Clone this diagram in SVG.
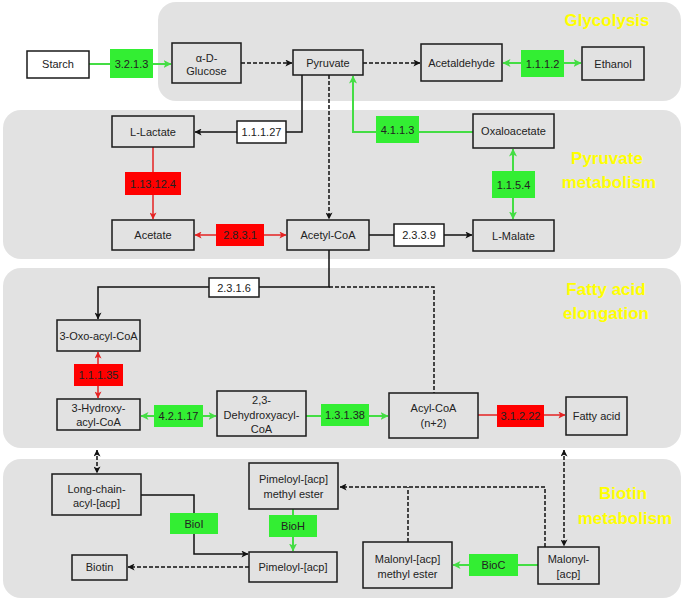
<svg xmlns="http://www.w3.org/2000/svg" width="685" height="602" viewBox="0 0 685 602">
<defs>
<style>
.panel{fill:#e2e2e2;stroke:none}
.node{fill:#e2e2e2;stroke:#1a1a1a;stroke-width:1.5}
.wnode{fill:#ffffff;stroke:#1a1a1a;stroke-width:1.5}
.green{fill:#33ee33;stroke:none}
.red{fill:#ff0000;stroke:none}
text{font-family:"Liberation Sans",Arial,sans-serif;font-size:11px;fill:#222;text-anchor:middle}
.title{font-weight:bold;font-size:17px;fill:#ffff00}
.bl{fill:none;stroke:#111;stroke-width:1.5}
.bd{fill:none;stroke:#111;stroke-width:1.5;stroke-dasharray:4 2}
.gl{fill:none;stroke:#44dd44;stroke-width:2}
.rl{fill:none;stroke:#e52222;stroke-width:1.5}
</style>
<marker id="ab" viewBox="0 0 8 8" markerWidth="7" markerHeight="7" refX="7.5" refY="4" orient="auto-start-reverse" markerUnits="userSpaceOnUse"><path d="M0,0 L8,4 L0,8 L2,4 z" fill="#111"/></marker>
<marker id="ag" viewBox="0 0 8 8" markerWidth="8" markerHeight="8" refX="7.5" refY="4" orient="auto-start-reverse" markerUnits="userSpaceOnUse"><path d="M0,0 L8,4 L0,8 L2,4 z" fill="#44dd44"/></marker>
<marker id="ar" viewBox="0 0 8 8" markerWidth="7" markerHeight="7" refX="7.5" refY="4" orient="auto-start-reverse" markerUnits="userSpaceOnUse"><path d="M0,0 L8,4 L0,8 L2,4 z" fill="#e52222"/></marker>
</defs>
<rect width="685" height="602" fill="#ffffff"/>
<g id="panels">
<rect class="panel" x="158" y="2" width="523" height="99" rx="18"/>
<rect class="panel" x="3" y="110" width="678" height="149" rx="18"/>
<rect class="panel" x="3" y="268" width="678" height="180" rx="18"/>
<rect class="panel" x="3" y="459" width="678" height="139" rx="18"/>
<text class="title" x="607" y="26">Glycolysis</text>
<text class="title" x="607" y="164">Pyruvate</text>
<text class="title" x="609" y="188">metabolism</text>
<text class="title" x="606" y="295">Fatty acid</text>
<text class="title" x="606" y="319">elongation</text>
<text class="title" x="623" y="499">Biotin</text>
<text class="title" x="625" y="524">metabolism</text>
</g>
<g id="connectors">
<path class="gl" d="M89,64 H171" marker-end="url(#ag)"/>
<path class="bd" d="M241,63 H292" marker-end="url(#ab)"/>
<path class="bd" d="M363,63 H420" marker-end="url(#ab)"/>
<path class="gl" d="M503,63 H581" marker-start="url(#ag)" marker-end="url(#ag)"/>
<path class="bl" d="M302,75 V132 H195" marker-end="url(#ab)"/>
<path class="bd" d="M329,75 V219" marker-end="url(#ab)"/>
<path class="gl" d="M473,132 H353 V76" marker-end="url(#ag)"/>
<path class="rl" d="M153,147 V219" marker-end="url(#ar)"/>
<path class="rl" d="M195,235 H286" marker-start="url(#ar)" marker-end="url(#ar)"/>
<path class="bl" d="M369,235 H472" marker-end="url(#ab)"/>
<path class="gl" d="M513,149 V219" marker-start="url(#ag)" marker-end="url(#ag)"/>
<path class="bl" d="M329,250 V287 H98 V319" marker-end="url(#ab)"/>
<path class="bd" d="M329,287 H434 V393"/>
<path class="rl" d="M98,352 V398" marker-start="url(#ar)" marker-end="url(#ar)"/>
<path class="gl" d="M141,416 H216" marker-start="url(#ag)" marker-end="url(#ag)"/>
<path class="gl" d="M306,416 H388" marker-end="url(#ag)"/>
<path class="rl" d="M478,415 H565" marker-end="url(#ar)"/>
<path class="bd" d="M97,450 V473" marker-start="url(#ab)" marker-end="url(#ab)"/>
<path class="bd" d="M564,450 V546" marker-start="url(#ab)" marker-end="url(#ab)"/>
<path class="bl" d="M141,495 H194 V554 H248" marker-end="url(#ab)"/>
<path class="gl" d="M293,509 V551" marker-end="url(#ag)"/>
<path class="bd" d="M249,567 H128" marker-end="url(#ab)"/>
<path class="gl" d="M538,565 H453" marker-end="url(#ag)"/>
<path class="bd" d="M545,547 V487 H340" marker-end="url(#ab)"/>
<path class="bd" d="M408,542 V487"/>
</g>
<g id="starch"><rect class="wnode" x="27" y="51" width="62" height="27"/><text x="58" y="68">Starch</text></g>
<g id="ec3213"><rect class="green" x="110" y="49" width="43" height="29"/><text x="131.5" y="68">3.2.1.3</text></g>
<g id="glucose"><rect class="node" x="172" y="43" width="69" height="40"/><text x="206.5" y="62">α-D-</text><text x="206.5" y="75">Glucose</text></g>
<g id="pyruvate"><rect class="node" x="293" y="50" width="70" height="25"/><text x="328" y="66.5">Pyruvate</text></g>
<g id="acetaldehyde"><rect class="node" x="421" y="44" width="81" height="37"/><text x="461.5" y="66.5">Acetaldehyde</text></g>
<g id="ec1112"><rect class="green" x="521" y="50" width="43" height="27"/><text x="542.5" y="67.5">1.1.1.2</text></g>
<g id="ethanol"><rect class="node" x="582" y="47" width="62" height="33"/><text x="613" y="67.5">Ethanol</text></g>
<g id="llactate"><rect class="node" x="112" y="116" width="82" height="31"/><text x="153" y="135.5">L-Lactate</text></g>
<g id="ec11127"><rect class="wnode" x="237" y="121" width="49" height="22"/><text x="261.5" y="136">1.1.1.27</text></g>
<g id="ec4113"><rect class="green" x="376" y="116" width="43" height="27"/><text x="397.5" y="133.5">4.1.1.3</text></g>
<g id="oxaloacetate"><rect class="node" x="473" y="114" width="81" height="34"/><text x="513.5" y="135">Oxaloacetate</text></g>
<g id="ec113124"><rect class="red" x="125" y="172" width="56" height="23"/><text x="153" y="187.5">1.13.12.4</text></g>
<g id="ec1154"><rect class="green" x="492" y="171" width="43" height="27"/><text x="513.5" y="188.5">1.1.5.4</text></g>
<g id="acetate"><rect class="node" x="112" y="220" width="82" height="30"/><text x="153" y="239">Acetate</text></g>
<g id="ec2831"><rect class="red" x="216" y="224" width="48" height="22"/><text x="240" y="239">2.8.3.1</text></g>
<g id="acetylcoa"><rect class="node" x="287" y="220" width="82" height="30"/><text x="328" y="239">Acetyl-CoA</text></g>
<g id="ec2339"><rect class="wnode" x="394" y="224" width="50" height="22"/><text x="419" y="239">2.3.3.9</text></g>
<g id="lmalate"><rect class="node" x="473" y="220" width="81" height="31"/><text x="513.5" y="239.5">L-Malate</text></g>
<g id="ec2316"><rect class="wnode" x="209" y="278" width="50" height="19"/><text x="234" y="291.5">2.3.1.6</text></g>
<g id="oxoacyl"><rect class="node" x="57" y="320" width="83" height="31"/><text x="98.5" y="339.5">3-Oxo-acyl-CoA</text></g>
<g id="ec11135"><rect class="red" x="74" y="364" width="49" height="22"/><text x="98.5" y="379">1.1.1.35</text></g>
<g id="hydroxy"><rect class="node" x="57" y="399" width="83" height="31"/><text x="98.5" y="412">3-Hydroxy-</text><text x="98.5" y="426">acyl-CoA</text></g>
<g id="ec42117"><rect class="green" x="154" y="405" width="49" height="22"/><text x="178.5" y="420">4.2.1.17</text></g>
<g id="dehydroxy"><rect class="node" x="217" y="391" width="89" height="45"/><text x="261.5" y="404">2,3-</text><text x="261.5" y="419">Dehydroxyacyl-</text><text x="261.5" y="433">CoA</text></g>
<g id="ec13138"><rect class="green" x="321" y="404" width="48" height="22"/><text x="345" y="419">1.3.1.38</text></g>
<g id="acylcoa"><rect class="node" x="389" y="393" width="89" height="45"/><text x="433.5" y="412">Acyl-CoA</text><text x="433.5" y="427">(n+2)</text></g>
<g id="ec31222"><rect class="red" x="497" y="405" width="47" height="22"/><text x="520.5" y="420">3.1.2.22</text></g>
<g id="fattyacid"><rect class="node" x="566" y="397" width="61" height="38"/><text x="596.5" y="420">Fatty acid</text></g>
<g id="longchain"><rect class="node" x="52" y="474" width="89" height="41"/><text x="96.5" y="493">Long-chain-</text><text x="96.5" y="507">acyl-[acp]</text></g>
<g id="biol"><rect class="green" x="170" y="513" width="48" height="21"/><text x="194" y="527.5">BioI</text></g>
<g id="pimeloylme"><rect class="node" x="249" y="463" width="89" height="46"/><text x="293.5" y="483">Pimeloyl-[acp]</text><text x="293.5" y="498">methyl ester</text></g>
<g id="bioh"><rect class="green" x="269" y="515" width="48" height="22"/><text x="293" y="530">BioH</text></g>
<g id="pimeloyl"><rect class="node" x="249" y="552" width="88" height="30"/><text x="293" y="571">Pimeloyl-[acp]</text></g>
<g id="biotin"><rect class="node" x="72" y="555" width="55" height="25"/><text x="99.5" y="571">Biotin</text></g>
<g id="malonylme"><rect class="node" x="363" y="542" width="89" height="46"/><text x="407.5" y="563">Malonyl-[acp]</text><text x="407.5" y="578">methyl ester</text></g>
<g id="bioc"><rect class="green" x="469" y="554" width="49" height="22"/><text x="493.5" y="569">BioC</text></g>
<g id="malonyl"><rect class="node" x="538" y="547" width="61" height="37"/><text x="568.5" y="563">Malonyl-</text><text x="568.5" y="578">[acp]</text></g>
</svg>
